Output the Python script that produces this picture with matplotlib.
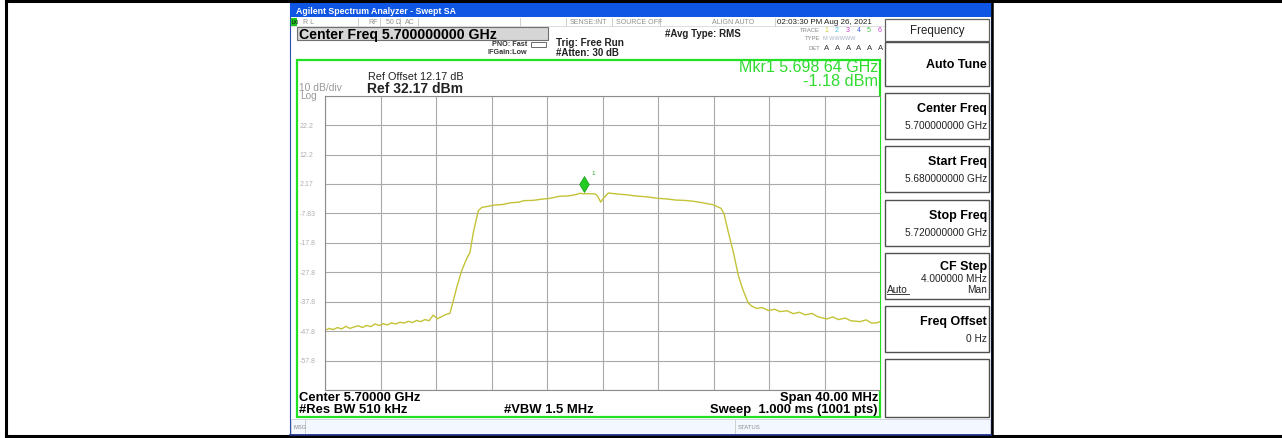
import matplotlib
matplotlib.use("Agg")
import matplotlib.pyplot as plt
from matplotlib.patches import Rectangle
from matplotlib.path import Path

plt.rcParams['font.family'] = ['Liberation Sans', 'DejaVu Sans']

start_mhz = 5680.0
span_mhz = 40.0
ref_level = 32.17
db_per_div = 10.0

# trace: frequency offset from start (MHz) and level (dBm)
trace_freq = [0.0, 0.3, 0.6, 0.9, 1.2, 1.5, 1.8, 2.1, 2.4, 2.7, 3.0, 3.3, 3.6, 3.9, 4.2,
              4.5, 4.8, 5.1, 5.4, 5.7, 6.0, 6.3, 6.6, 6.9, 7.2, 7.5, 7.8, 8.1, 8.4, 8.7,
              9.0, 9.25, 9.49, 9.85, 10.2, 10.45, 10.69, 11.05, 11.3, 11.65,
              12.2, 12.8, 13.4, 14.0, 14.3, 15.0, 15.6, 16.2, 16.9, 17.5, 18.0, 18.4,
              18.64, 19.0, 19.46, 19.63, 19.87, 20.06, 20.42, 21.0, 21.74, 22.4, 23.2,
              23.98, 24.6, 25.3, 25.9, 26.55, 27.2, 27.99, 28.54, 28.76, 29.07, 29.43,
              29.79, 30.1, 30.5, 30.75, 31.1, 31.5, 31.95, 32.4, 32.8, 33.3, 33.75,
              34.2, 34.6, 35.1, 35.5, 36.16, 36.6, 37.0, 37.5, 37.9, 38.56, 39.0, 39.4,
              39.76, 40.0]
trace_level = [-47.6, -46.9, -47.3, -46.6, -47.1, -46.2, -46.9, -46.4, -46.0, -46.6,
               -45.9, -46.3, -45.4, -45.9, -45.3, -45.7, -45.0, -45.4, -44.8, -45.1,
               -44.5, -44.9, -44.2, -44.6, -43.9, -44.3, -42.4, -43.6, -42.9, -42.2,
               -41.8, -37.5, -33.0, -27.3, -23.3, -21.1, -14.3, -6.9, -5.8, -5.5,
               -5.0, -4.8, -4.2, -4.0, -3.5, -3.4, -3.0, -2.7, -2.0, -1.9, -1.5, -1.0,
               -1.18, -1.1, -1.2, -1.8, -4.0, -2.7, -0.9, -1.2, -1.5, -1.9, -2.2,
               -2.7, -2.9, -3.3, -3.4, -3.7, -4.2, -4.9, -6.1, -8.0, -14.2, -21.0,
               -28.9, -33.5, -38.2, -39.3, -40.1, -39.8, -40.8, -40.4, -41.2, -40.9,
               -41.9, -41.4, -42.3, -41.8, -42.9, -43.7, -43.0, -43.9, -43.4, -44.3,
               -44.6, -44.0, -45.1, -45.0, -44.6]

marker_freq = 18.64
marker_level = -1.18

ytick_labels = ['22.2', '12.2', '2.17', '-7.83', '-17.8', '-27.8', '-37.8', '-47.8', '-57.8']

softkeys = [('Auto Tune', None), ('Center Freq', '5.700000000 GHz'),
            ('Start Freq', '5.680000000 GHz'), ('Stop Freq', '5.720000000 GHz'),
            ('CF Step', '4.000000 MHz'), ('Freq Offset', '0 Hz')]

W, H = 1282, 439
fig = plt.figure(figsize=(W / 100, H / 100), dpi=100)

# background overlay in pixel coordinates
bg = fig.add_axes([0, 0, 1, 1])
bg.set_xlim(0, W)
bg.set_ylim(H, 0)
bg.axis('off')
bg.set_zorder(0)

# table borders
bg.plot([6, W], [1.5, 1.5], color='black', lw=2.2)
bg.plot([6, W], [437.5, 437.5], color='black', lw=2.2)
bg.plot([6, 6], [1.5, 437.5], color='black', lw=2.2)
bg.plot([992, 992], [1.5, 437.5], color='black', lw=1.8)

# window
bg.add_patch(Rectangle((290, 3), 701, 434, facecolor='white', edgecolor='#2a4fb0', lw=0.8))
bg.add_patch(Rectangle((290, 3), 701, 15, facecolor='#0f56e4', edgecolor='none'))
bg.text(296, 11, 'Agilent Spectrum Analyzer - Swept SA', color='white', fontsize=6.3,
        fontweight='bold', va='center')

# status line
bg.add_patch(Rectangle((291, 18.5), 6, 8, facecolor='#1fc21f', edgecolor='none'))
bg.text(291.5, 23, 'LXI', fontsize=3.5, color='black', va='center')
status = [(303, 'R L'), (368, 'RF'), (386, '50 \u03a9'), (405, 'AC'), (570, 'SENSE:INT'),
          (616, 'SOURCE OFF'), (712, 'ALIGN AUTO'), (777, '02:03:30 PM Aug 26, 2021')]
for x, s in status:
    if s.startswith('02'):
        bg.text(x, 23, s, fontsize=5.8, color='#222222', va='center')
    else:
        bg.text(x, 23, s, fontsize=5.0, color='#909090', va='center')
for x in [358, 380, 400, 418, 520, 566, 612, 660, 775]:
    bg.plot([x, x], [19, 27], color='#c8c8c8', lw=0.6)
bg.plot([291, 884], [27, 27], color='#d0d0d0', lw=0.5)

# header block
bg.add_patch(Rectangle((297, 27.5), 251, 13.5, facecolor='#d6d6d6', edgecolor='#707070', lw=0.8))
bg.text(299, 34.5, 'Center Freq 5.700000000 GHz', fontsize=10.2, fontweight='bold', va='center')
bg.text(527, 45, 'PNO: Fast', fontsize=5.2, fontweight='bold', ha='right', va='center', color='#333333')
bg.text(527, 52, 'IFGain:Low', fontsize=5.2, fontweight='bold', ha='right', va='center', color='#333333')
bg.add_patch(Rectangle((531, 42.5), 15, 5, facecolor='white', edgecolor='#555555', lw=0.6))
bg.text(556, 43, 'Trig: Free Run', fontsize=7.2, fontweight='bold', va='center', color='#222222')
bg.text(556, 53, '#Atten: 30 dB', fontsize=7.0, fontweight='bold', va='center', color='#222222')
bg.text(665, 34, '#Avg Type: RMS', fontsize=7.0, fontweight='bold', va='center', color='#222222')

bg.text(820, 30, 'TRACE', fontsize=4.2, color='#888888', ha='right', va='center')
trace_cols = ['#d0d040', '#40c0e0', '#d040d0', '#4060e0', '#40c040', '#d040d0']
for i, c in enumerate(trace_cols):
    bg.text(824 + i * 10.8, 30, str(i + 1), fontsize=5.0, color=c, va='center')
bg.text(820, 38, 'TYPE', fontsize=4.2, color='#888888', ha='right', va='center')
bg.text(823, 38, 'M WWWWW', fontsize=4.0, color='#a8b0c8', va='center')
bg.text(820, 48, 'DET', fontsize=4.2, color='#888888', ha='right', va='center')
for i in range(6):
    bg.text(824 + i * 10.8, 48, 'A', fontsize=5.6, color='#333333', va='center')

# green display frame
bg.add_patch(Rectangle((297, 60.5), 583, 357.5, facecolor='white', edgecolor='#22e022', lw=1.6))
bg.text(878, 68, 'Mkr1 5.698 64 GHz', fontsize=11.5, color='#2fdc2f', ha='right', va='center')
bg.text(878, 82, '-1.18 dBm', fontsize=11.7, color='#2fdc2f', ha='right', va='center')
bg.text(368, 77, 'Ref Offset 12.17 dB', fontsize=7.8, va='center', color='#222222')
bg.text(367, 89, 'Ref 32.17 dBm', fontsize=10.0, fontweight='bold', va='center', color='#222222')
bg.text(299, 88, '10 dB/div', fontsize=7.4, color='#9a9a9a', va='center')
bg.text(300, 96, 'Log', fontsize=7.2, color='#9a9a9a', va='center')

bg.text(299, 398, 'Center 5.70000 GHz', fontsize=9.4, fontweight='bold', va='center')
bg.text(299, 410, '#Res BW 510 kHz', fontsize=9.4, fontweight='bold', va='center')
bg.text(504, 410, '#VBW 1.5 MHz', fontsize=9.4, fontweight='bold', va='center')
bg.text(878, 398, 'Span 40.00 MHz', fontsize=9.4, fontweight='bold', ha='right', va='center')
bg.text(878, 410, 'Sweep  1.000 ms (1001 pts)', fontsize=9.4, fontweight='bold', ha='right', va='center')

# message line
bg.add_patch(Rectangle((291, 420), 699, 15, facecolor='#f3f7ff', edgecolor='#c8ccd8', lw=0.6))
bg.plot([305, 305], [421, 434], color='#c8c8c8', lw=0.6)
bg.plot([735, 735], [421, 434], color='#c8c8c8', lw=0.6)
bg.text(294, 428, 'MSG', fontsize=4.2, color='#888888', va='center')
bg.text(738, 428, 'STATUS', fontsize=4.2, color='#888888', va='center')
bg.plot([290, 991], [436.5, 436.5], color='#1c2f8a', lw=1.2)

# soft key panel
bg.add_patch(Rectangle((885, 20), 104, 22, facecolor='white', edgecolor='#606060', lw=0.9))
bg.text(937, 31, 'Frequency', fontsize=8.3, ha='center', va='center', color='#222222')
key_tops = [43, 94, 147, 201, 254, 307]
key_h = [44, 46, 46, 46, 46, 46]
for (label, value), top, h in zip(softkeys, key_tops, key_h):
    bg.add_patch(Rectangle((885, top), 104, h, facecolor='white', edgecolor='#505050', lw=1.0))
    if value is None:
        bg.text(987, top + h / 2, label, fontsize=9.0, fontweight='bold', ha='right', va='center')
    elif label == 'CF Step':
        bg.text(987, top + 13, label, fontsize=9.0, fontweight='bold', ha='right', va='center')
        bg.text(987, top + 25, value, fontsize=7.3, ha='right', va='center', color='#222222')
        bg.text(887, top + 36, 'Auto', fontsize=7.3, ha='left', va='center', color='#222222')
        bg.plot([887, 909], [top + 41, top + 41], color='#222222', lw=0.6)
        bg.text(987, top + 36, 'Man', fontsize=7.3, ha='right', va='center', color='#222222')
    else:
        bg.text(987, top + 15, label, fontsize=9.0, fontweight='bold', ha='right', va='center')
        bg.text(987, top + 32, value, fontsize=7.3, ha='right', va='center', color='#222222')
bg.add_patch(Rectangle((885, 360), 104, 58, facecolor='white', edgecolor='#505050', lw=1.0))

# ---- trace display ----
left, right, top, bottom = 325, 880, 96.7, 391.0
ax = fig.add_axes([left / W, 1 - bottom / H, (right - left) / W, (bottom - top) / H])
ax.set_zorder(1)
ax.set_facecolor('white')

x_mhz = [start_mhz + f for f in trace_freq]
ax.plot(x_mhz, trace_level, color='#c4c236', lw=1.0)

diamond = Path([(0, 0), (-0.6, 1), (0, 2), (0.6, 1), (0, 0)],
               [Path.MOVETO, Path.LINETO, Path.LINETO, Path.LINETO, Path.CLOSEPOLY])
ax.plot([start_mhz + marker_freq], [marker_level + 0.6], marker=diamond, ms=23,
        color='#22cc22', mec='#119911', mew=0.5, ls='none')
ax.annotate('1', (start_mhz + marker_freq, marker_level), xytext=(6, 14),
            textcoords='offset points', fontsize=4.5, color='#22aa22')

ax.set_xlim(start_mhz, start_mhz + span_mhz)
ax.set_ylim(ref_level - 10 * db_per_div, ref_level)
ax.set_xticks([start_mhz + span_mhz / 10 * i for i in range(11)])
ax.set_yticks([ref_level - db_per_div * i for i in range(11)])
ax.tick_params(length=0, labelbottom=False, labelleft=False)
ax.grid(True, color='#a9a9a9', lw=0.8)
for side in ['top', 'bottom', 'left', 'right']:
    ax.spines[side].set_color('#8c8c8c')
    ax.spines[side].set_linewidth(0.8)
ax.spines['right'].set_visible(False)

for i, lab in enumerate(ytick_labels):
    ax.text(-0.046, ref_level - db_per_div * (i + 1), lab, transform=ax.get_yaxis_transform(),
            fontsize=5.0, color='#b0b0b0', ha='left', va='center')

fig.savefig('out.png', dpi=100)
